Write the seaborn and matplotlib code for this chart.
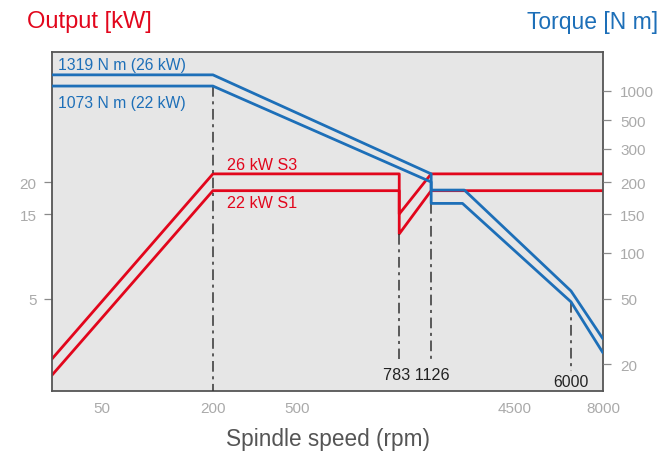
import numpy as np
import matplotlib
matplotlib.use("Agg")
import matplotlib.pyplot as plt
import matplotlib.transforms as mtransforms
import seaborn as sns

sns.set_style("white")
plt.rcParams['font.family'] = ['Liberation Sans', 'DejaVu Sans']

RED = '#e2061c'
BLUE = '#1d6fb8'
TICK_GREY = '#aaaaaa'

# Output curves (speed in rpm, output in kW)
speed_s3 = [27, 200, 783, 783, 1126, 8000]
power_s3 = [2.15, 22.1, 22.1, 15.0, 22.1, 22.1]
speed_s1 = [27, 200, 783, 783, 1126, 8000]
power_s1 = [1.71, 18.5, 18.5, 12.2, 18.5, 18.5]

# Torque curves (N m)
speed_t26 = [27, 200, 1126, 1126, 1950, 6000, 8000]
torque_t26 = [1470, 1470, 221, 186, 186, 56.4, 28.5]
speed_t22 = [27, 200, 1126, 1126, 1890, 6000, 8000]
torque_t22 = [1125, 1125, 200, 165, 165, 48.0, 23.4]

# dash-dot guides (torque units), None = down to the axis
guide_speed = [200, 783, 1126, 6000]
guide_top = [1125, 122, 165, 48.0]
guide_bottom = [None, 21.5, 21.5, 18.1]

speed_ticks = [50, 200, 500, 4500, 8000]
torque_ticks = [20, 50, 100, 150, 200, 300, 500, 1000]
power_ticks = [5, 15, 20]

# the chart's axes are stretched by hand, so the scales are piecewise log
speed_stops = [50, 200, 500, 783, 1126, 4500, 6000, 8000]
speed_frac = [0.0889, 0.2913, 0.4446, 0.6298, 0.6878, 0.8400, 0.9419, 1.0]
torque_stops = [20, 50, 100, 150, 200, 300, 500, 1000]
torque_frac = [0.0796, 0.2714, 0.4071, 0.5221, 0.6165, 0.7139, 0.7994, 0.8850]


def stretched_log(stops, frac):
    lx = np.log10(np.asarray(stops, float))
    fy = np.asarray(frac, float)
    s_lo = (fy[1] - fy[0]) / (lx[1] - lx[0])
    s_hi = (fy[-1] - fy[-2]) / (lx[-1] - lx[-2])

    def forward(v):
        x = np.log10(np.maximum(np.asarray(v, float), 1e-6))
        out = np.interp(x, lx, fy)
        out = np.where(x < lx[0], fy[0] + (x - lx[0]) * s_lo, out)
        return np.where(x > lx[-1], fy[-1] + (x - lx[-1]) * s_hi, out)

    def inverse(p):
        p = np.asarray(p, float)
        x = np.interp(p, fy, lx)
        x = np.where(p < fy[0], lx[0] + (p - fy[0]) / s_lo, x)
        x = np.where(p > fy[-1], lx[-1] + (p - fy[-1]) / s_hi, x)
        return 10 ** x

    return forward, inverse


x_fwd, x_inv = stretched_log(speed_stops, speed_frac)
t_fwd, t_inv = stretched_log(torque_stops, torque_frac)
kw_fwd = lambda k: t_fwd(np.asarray(k, float) * 10)
kw_inv = lambda p: t_inv(p) / 10

fig = plt.figure(figsize=(6.61, 4.52), dpi=100)
ax = fig.add_axes([52 / 661, 60 / 452, 551 / 661, 339 / 452])
ax2 = ax.twinx()
ax.set_facecolor('#e6e6e6')

t_bottom = float(t_inv(0.0))
for s, top, bot in zip(guide_speed, guide_top, guide_bottom):
    ax2.plot([s, s], [top, t_bottom if bot is None else bot], color='#333333',
             lw=1.1, dashes=(7, 3, 2, 3), zorder=1)

sns.lineplot(x=speed_s3, y=power_s3, sort=False, estimator=None, ax=ax, color=RED, lw=2)
sns.lineplot(x=speed_s1, y=power_s1, sort=False, estimator=None, ax=ax, color=RED, lw=2)
sns.lineplot(x=speed_t26, y=torque_t26, sort=False, estimator=None, ax=ax2, color=BLUE, lw=2)
sns.lineplot(x=speed_t22, y=torque_t22, sort=False, estimator=None, ax=ax2, color=BLUE, lw=2)

ax.set_xscale('function', functions=(x_fwd, x_inv))
ax.set_yscale('function', functions=(kw_fwd, kw_inv))
ax2.set_yscale('function', functions=(t_fwd, t_inv))
ax.set_xlim(27, 8000)
ax.set_ylim(float(kw_inv(0.0)), float(kw_inv(1.0)))
ax2.set_ylim(float(t_inv(0.0)), float(t_inv(1.0)))

ax.set_xticks(speed_ticks, [str(v) for v in speed_ticks])
ax.set_yticks(power_ticks, [str(v) for v in power_ticks])
ax2.set_yticks(torque_ticks, [str(v) for v in torque_ticks])
ax.minorticks_off()
ax2.minorticks_off()

ax.tick_params(axis='x', bottom=True, length=0, pad=7, labelsize=11, labelcolor=TICK_GREY)
ax.tick_params(axis='y', left=True, length=5.5, width=0.9, color='#8a8a8a', pad=5.5,
               labelsize=11, labelcolor=TICK_GREY)
ax2.tick_params(axis='y', right=True, length=5.5, width=0.9, color='#8a8a8a', pad=7,
                labelsize=11, labelcolor=TICK_GREY)

for sp in ax.spines.values():
    sp.set_color('#555555')
    sp.set_linewidth(1.3)
for sp in ax2.spines.values():
    sp.set_visible(False)

ax.set_xlabel('Spindle speed (rpm)', fontsize=16.3, color='#555555', labelpad=9)
ax.set_ylabel('')
ax2.set_ylabel('')

# labels
ax.text(0.011, 0.9625, '1319 N m (26 kW)', transform=ax.transAxes, color=BLUE,
        fontsize=11.3, va='center', ha='left')
ax.text(0.011, 0.8525, '1073 N m (22 kW)', transform=ax.transAxes, color=BLUE,
        fontsize=11.3, va='center', ha='left')
ax.text(0.3176, 0.6696, '26 kW S3', transform=ax.transAxes, color=RED,
        fontsize=11.6, va='center', ha='left')
ax.text(0.3176, 0.5575, '22 kW S1', transform=ax.transAxes, color=RED,
        fontsize=11.6, va='center', ha='left')

blend = mtransforms.blended_transform_factory(ax.transData, ax.transAxes)
ax.annotate('783 1126', xy=(783, 0.048), xycoords=blend, xytext=(-16, 0),
            textcoords='offset pixels', ha='left', va='center', fontsize=11.6, color='#222222')
ax.text(6000, 0.0275, '6000', transform=blend, ha='center', va='center', fontsize=11.3, color='#222222')

fig.text(27 / 661, 1 - 22 / 452, 'Output [kW]', color=RED, fontsize=17, ha='left', va='center')
fig.text(658 / 661, 1 - 22 / 452, 'Torque [N m]', color=BLUE, fontsize=16.5, ha='right', va='center')

fig.savefig('out.png', dpi=100)
plt.close(fig)
